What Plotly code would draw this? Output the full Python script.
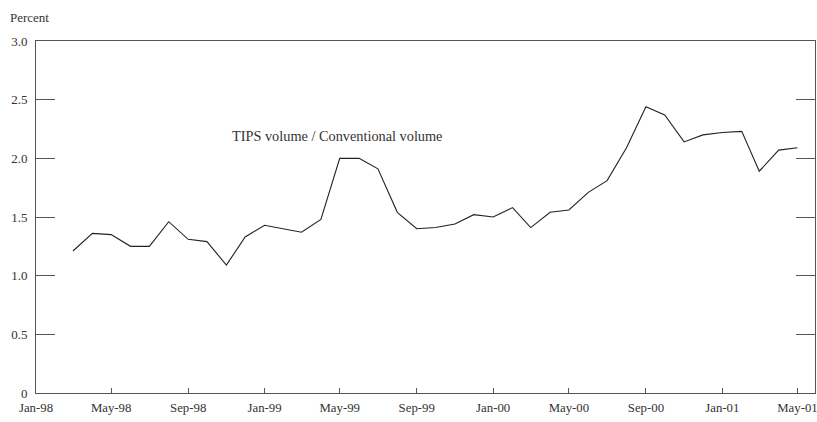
import plotly.graph_objects as go

months = [
    "1998-03-01", "1998-04-01", "1998-05-01", "1998-06-01", "1998-07-01", "1998-08-01",
    "1998-09-01", "1998-10-01", "1998-11-01", "1998-12-01", "1999-01-01", "1999-02-01",
    "1999-03-01", "1999-04-01", "1999-05-01", "1999-06-01", "1999-07-01", "1999-08-01",
    "1999-09-01", "1999-10-01", "1999-11-01", "1999-12-01", "2000-01-01", "2000-02-01",
    "2000-03-01", "2000-04-01", "2000-05-01", "2000-06-01", "2000-07-01", "2000-08-01",
    "2000-09-01", "2000-10-01", "2000-11-01", "2000-12-01", "2001-01-01", "2001-02-01",
    "2001-03-01", "2001-04-01", "2001-05-01",
]
ratio = [
    1.21, 1.36, 1.35, 1.25, 1.25, 1.46,
    1.31, 1.29, 1.09, 1.33, 1.43, 1.40,
    1.37, 1.48, 2.00, 2.00, 1.91, 1.54,
    1.40, 1.41, 1.44, 1.52, 1.50, 1.58,
    1.41, 1.54, 1.56, 1.71, 1.81, 2.09,
    2.44, 2.37, 2.14, 2.20, 2.22, 2.23,
    1.89, 2.07, 2.09,
]
x_tick_vals = ["1998-01-01", "1998-05-01", "1998-09-01", "1999-01-01", "1999-05-01",
               "1999-09-01", "2000-01-01", "2000-05-01", "2000-09-01", "2001-01-01", "2001-05-01"]
x_tick_text = ["Jan-98", "May-98", "Sep-98", "Jan-99", "May-99", "Sep-99",
               "Jan-00", "May-00", "Sep-00", "Jan-01", "May-01"]
y_tick_vals = [0, 0.5, 1.0, 1.5, 2.0, 2.5, 3.0]
y_tick_text = ["0", "0.5", "1.0", "1.5", "2.0", "2.5", "3.0"]

FONT = "Liberation Serif"
TXT = "#333333"
AX = "#555555"

fig = go.Figure()
fig.add_trace(go.Scatter(x=months, y=ratio, mode="lines",
                         line=dict(color="#222222", width=1.1), showlegend=False))

fig.update_layout(
    width=817, height=422,
    margin=dict(l=36, r=2, t=41, b=28.5),
    paper_bgcolor="white", plot_bgcolor="white",
    font=dict(family=FONT, size=13, color=TXT),
    xaxis=dict(
        type="date", range=["1998-01-01", "2001-05-29"],
        tickmode="array", tickvals=x_tick_vals, ticktext=x_tick_text,
        ticks="inside", ticklen=5, tickwidth=1, tickcolor=AX,
        showline=True, linecolor=AX, linewidth=1, mirror=True,
        showgrid=False, zeroline=False, ticklabelstandoff=3,
        ticklabeloverflow="allow", automargin=False,
        tickfont=dict(family=FONT, size=12.8, color=TXT),
    ),
    yaxis=dict(
        range=[0, 3.0],
        tickmode="array", tickvals=y_tick_vals, ticktext=y_tick_text,
        ticks="inside", ticklen=19, tickwidth=1, tickcolor=AX,
        showline=True, linecolor=AX, linewidth=1, mirror="ticks",
        showgrid=False, zeroline=False, ticklabelstandoff=5,
        automargin=False,
        tickfont=dict(family=FONT, size=13, color=TXT),
    ),
    annotations=[
        dict(text="Percent", x=-28 / 779, y=1 + 24 / 352.5, xref="paper", yref="paper",
             xanchor="left", yanchor="middle", showarrow=False,
             font=dict(family=FONT, size=13, color=TXT)),
        dict(text="TIPS volume / Conventional volume", x="1999-04-26", y=2.19,
             xref="x", yref="y", showarrow=False,
             font=dict(family=FONT, size=14.3, color=TXT)),
    ],
)

fig.write_html("out.html")
